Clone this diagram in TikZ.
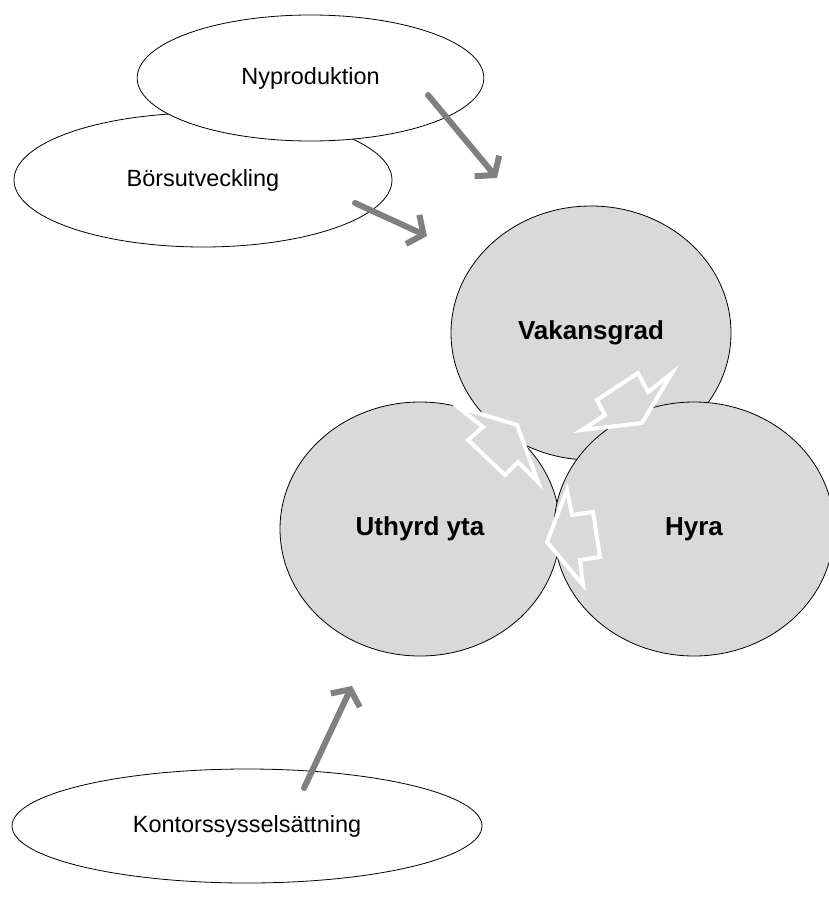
\documentclass[tikz,border=0pt]{standalone}
\usepackage{fontspec}
\setmainfont{Liberation Sans}
\usepackage{tikz}
\usetikzlibrary{arrows.meta}
\usetikzlibrary{shapes.geometric}
\usetikzlibrary{positioning}
\definecolor{coregray}{HTML}{D9D9D9}
\definecolor{pushgray}{HTML}{808080}
\tikzstyle{factor}=[draw,ellipse,fill=white,line width=0.6pt,inner sep=0pt,font=\fontsize{17.6}{20}\selectfont]
\tikzstyle{core}=[draw,ellipse,fill=coregray,line width=0.6pt,inner sep=0pt,minimum width=210pt,minimum height=190.5pt,font=\fontsize{19.5}{22}\selectfont\bfseries]

\begin{document}
\begin{tikzpicture}[x=0.75pt,y=-0.75pt]
\tikzstyle{influence}=[draw=pushgray,line width=4.5pt,line cap=round,line join=round,-{Straight Barb[length=9pt,width=24pt]}]
\tikzstyle{feedback}=[draw=white,fill=coregray,line width=3pt]
\useasboundingbox (0,0) rectangle (828,899);
% outer factors
\node [factor,minimum width=283.5pt,minimum height=100.5pt] (bors) at (203,180) {Börsutveckling};
\node [factor,minimum width=260pt,minimum height=94.5pt] (nypro) at (310.5,78) {Nyproduktion};
\node [factor,minimum width=352.5pt,minimum height=85.5pt] (kontor) at (247,826) {Kontorssysselsättning};
% the three core variables
\node [core] (vakans) at (591,333) {Vakansgrad};
\node [core] (uthyrd) at (420,529) {Uthyrd yta};
\node [core] (hyra) at (694,529) {Hyra};
% feedback between the core variables
\draw [feedback] (458,407) -- (517,425) -- (538,482) -- (518,462) -- (505,475) -- (468,440) -- (483,427) -- cycle;
\draw [feedback] (672,373) -- (642,423) -- (582,430) -- (605,415) -- (597,400) -- (638,373) -- (648,392) -- cycle;
\draw [feedback] (567,490) -- (572,515) -- (593,512) -- (600,557) -- (580,560) -- (583,585) -- (547,542) -- cycle;
% influences from outside
\coordinate (ny-s) at (428,95);
\coordinate (ny-e) at (497,178);
\coordinate (bo-s) at (355,203);
\coordinate (bo-e) at (427,236);
\coordinate (ko-s) at (304,788);
\coordinate (ko-e) at (352,686);
\draw [influence] (ny-s) -- (ny-e);
\draw [influence] (bo-s) -- (bo-e);
\draw [influence] (ko-s) -- (ko-e);
\end{tikzpicture}
\end{document}
